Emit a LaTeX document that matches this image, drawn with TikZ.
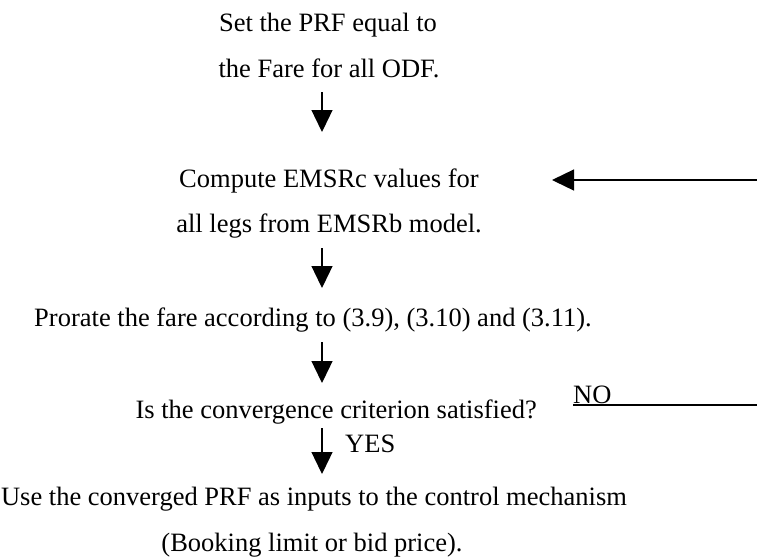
\documentclass[tikz,border=0pt]{standalone}
\usepackage{fontspec}
\setmainfont{Liberation Serif}
\usetikzlibrary{arrows.meta}
\begin{document}
\begin{tikzpicture}[x=1pt,y=-1pt,
  txt/.style={anchor=base,inner sep=0pt,font=\fontsize{26.5}{30}\selectfont},
  arr/.style={line width=1.3pt,-{Triangle[length=22pt,width=21pt]}},
  ln/.style={line width=1.3pt}]
\useasboundingbox (0,0) rectangle (757,558);
\coordinate (col) at (322,0);
\node[txt] (l1) at (328,31) {Set the PRF equal to};
\node[txt] (l2) at (329,77) {the Fare for all ODF.};
\node[txt] (l3) at (329,187) {Compute EMSRc values for};
\node[txt] (l4) at (329,232) {all legs from EMSRb model.};
\node[txt] (l5) at (313,326) {Prorate the fare according to (3.9), (3.10) and (3.11).};
\node[txt,anchor=base east] (l6) at (537,418) {Is the convergence criterion satisfied?};
\node[txt,anchor=base west] (no) at (573,403) {NO};
\node[txt,anchor=base west] (yes) at (345,452) {YES};
\node[txt] (l7) at (314,505) {Use the converged PRF as inputs to the control mechanism};
\node[txt] (l8) at (312,551) {(Booking limit or bid price).};
\coordinate (noend) at (757,405);
\coordinate (fbstart) at (757,180);
\draw[arr] ([yshift=-15pt]l2.base -| col) -- ([yshift=55pt]l3.base -| col);
\draw[arr] ([yshift=-16pt]l4.base -| col) -- ([yshift=38pt]l5.base -| col);
\draw[arr] ([yshift=-16pt]l5.base -| col) -- ([yshift=35pt]l6.base -| col);
\draw[arr] ([yshift=-10pt]l6.base -| col) -- ([yshift=31pt]l7.base -| col);
\draw[ln] ([xshift=36pt]l6.base east |- noend) -- (noend);
\draw[arr] (fbstart) -- (552,180);
\end{tikzpicture}
\end{document}
